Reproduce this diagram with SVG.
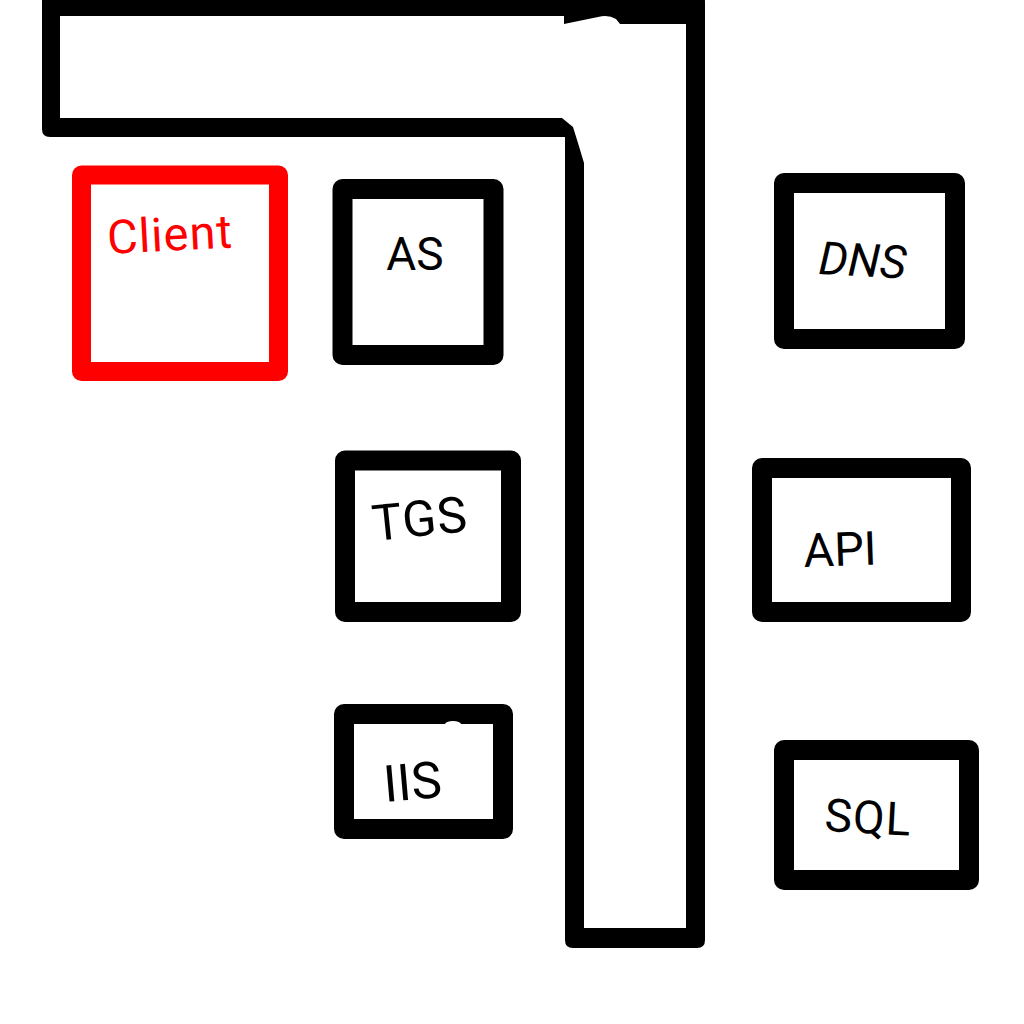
<svg xmlns="http://www.w3.org/2000/svg" width="1024" height="1024" viewBox="0 0 1024 1024">
<style>
.box{fill:#fff;stroke:#000;stroke-width:20;stroke-linejoin:round}
.lbl{font-family:Roboto,"Liberation Sans",sans-serif;fill:#000}
</style>
<rect width="1024" height="1024" fill="#fff"/>
<g id="frame">
<path d="M50,-8 H697 Q705,-8 705,2 V940 Q705,948 697,948 H573 Q565,948 565,940 V137 H50 Q42,137 42,129 V0 Q42,-8 50,-8 Z" fill="#000"/>
<path d="M60,16 H564 V24 L598,17 Q608,14 616,19 L620,24 H686 V928 H584 V163 L578,143 L573,127 L562,118 H60 Z" fill="#fff"/>
</g>
<g id="client">
<rect x="81.5" y="175" width="197" height="196.5" fill="#fff" stroke="#ff0000" stroke-width="19" stroke-linejoin="round"/>
<text x="108" y="254" font-family="Roboto,'Liberation Sans',sans-serif" font-size="47" letter-spacing="1" fill="#ff0000" transform="rotate(-3 108 254)">Client</text>
</g>
<g id="as">
<rect class="box" x="342.5" y="189" width="151" height="166"/>
<text class="lbl" x="415" y="270" font-size="46" text-anchor="middle">AS</text>
</g>
<g id="tgs">
<rect class="box" x="345" y="460.5" width="166" height="151.5"/>
<text class="lbl" x="374" y="541" font-size="50" letter-spacing="1" transform="rotate(-6 374 541)">TGS</text>
</g>
<g id="iis">
<rect class="box" x="344" y="714" width="159" height="115"/>
<ellipse cx="453" cy="724" rx="8" ry="3" fill="#fff"/>
<text class="lbl" x="385" y="802" font-size="51" transform="rotate(-5 385 802)">IIS</text>
</g>
<g id="dns">
<rect class="box" x="784" y="183" width="171" height="156"/>
<text class="lbl" x="818" y="274" font-size="46" font-style="italic" transform="rotate(3 818 274)">DNS</text>
</g>
<g id="api">
<rect class="box" x="762" y="468" width="199" height="144"/>
<text class="lbl" x="804" y="567" font-size="47" transform="rotate(-2 804 567)">API</text>
</g>
<g id="sql">
<rect class="box" x="784" y="750" width="185" height="130"/>
<text class="lbl" x="824" y="831" font-size="46" letter-spacing="1" transform="rotate(3 824 831)">SQL</text>
</g>
<g id="connectors"></g>
</svg>
